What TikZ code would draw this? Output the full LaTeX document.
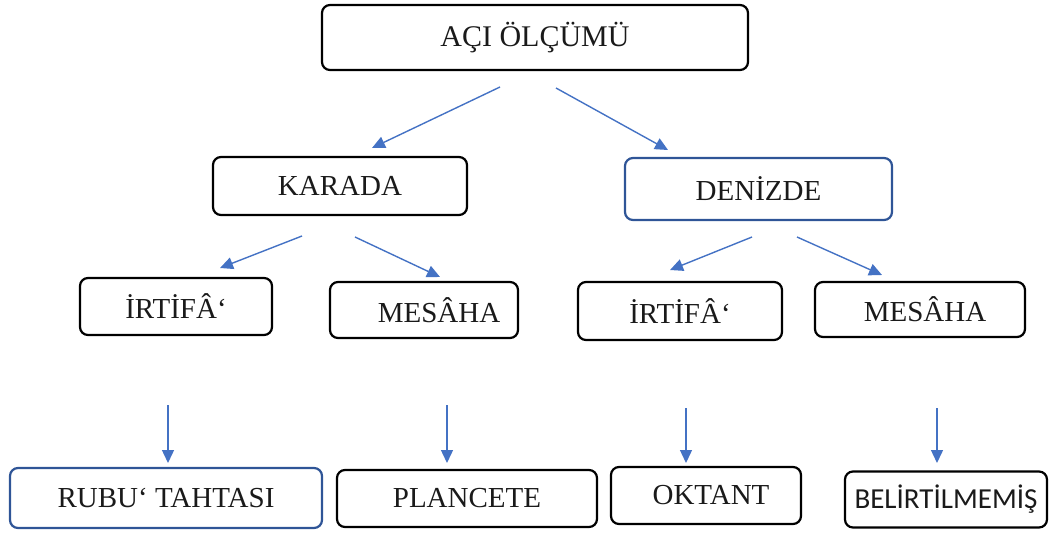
\documentclass[tikz,border=0pt]{standalone}
\usepackage{fontspec}
\setmainfont{Liberation Serif}
\newfontfamily\calfont{Carlito}
\usetikzlibrary{arrows.meta}
\definecolor{arr}{HTML}{4472C4}
\definecolor{bbl}{HTML}{2F5597}
\definecolor{txt}{HTML}{1A1A1A}
\tikzset{
 box/.style={draw=black, line width=2.2pt, rounded corners=8pt, inner sep=0pt, text=txt, font=\fontsize{29}{31}\selectfont},
 bluebox/.style={box, draw=bbl},
 conn/.style={draw=arr, line width=1.4pt, -{Triangle[length=13pt,width=12pt]}},
}
\begin{document}
\begin{tikzpicture}[x=1pt,y=-1pt]
\useasboundingbox (0,0) rectangle (1054,533);
\node[box, minimum width=426pt, minimum height=65pt, font=\fontsize{30}{32}\selectfont] (top) at (535,37.5) {AÇI ÖLÇÜMÜ};
\node[box, minimum width=254pt, minimum height=58pt] (kar) at (340,186) {KARADA};
\node[bluebox, minimum width=267pt, minimum height=62pt] (den) at (758.5,189) {DENİZDE};
\node[box, minimum width=192pt, minimum height=57pt] (ir1) at (176,306.5) {İRTİFÂ‘};
\node[box, minimum width=188pt, minimum height=56pt] (me1) at (424,310) {\hspace*{30pt}MESÂHA};
\node[box, minimum width=204pt, minimum height=58pt] (ir2) at (680,311) {İRTİFÂ‘};
\node[box, minimum width=210pt, minimum height=55pt] (me2) at (920,309.5) {\hspace*{10pt}MESÂHA};
\node[bluebox, minimum width=312pt, minimum height=60pt] (rub) at (166,498) {RUBU‘ TAHTASI};
\node[box, minimum width=260pt, minimum height=57pt] (pla) at (467,498.5) {PLANCETE};
\node[box, minimum width=190pt, minimum height=57pt] (okt) at (706,495.5) {\hspace*{10pt}\raisebox{-3pt}{OKTANT}};
\node[box, minimum width=202pt, minimum height=56pt, font=\calfont\fontsize{29}{31}\selectfont] (bel) at (946,499.5) {BELİRTİLMEMİŞ};
% arrow end coordinates
\coordinate (t1s) at (500,87);  \coordinate (t1e) at (372,148);
\coordinate (t2s) at (556,88);  \coordinate (t2e) at (668,150);
\coordinate (k1s) at (302,236); \coordinate (k1e) at (220,268);
\coordinate (k2s) at (355,237); \coordinate (k2e) at (440,277);
\coordinate (d1s) at (752,237); \coordinate (d1e) at (670,270);
\coordinate (d2s) at (797,237); \coordinate (d2e) at (882,275);
\coordinate (v1s) at (168,405); \coordinate (v1e) at (168,463);
\coordinate (v2s) at (447,405); \coordinate (v2e) at (447,463);
\coordinate (v3s) at (686,408); \coordinate (v3e) at (686,463);
\coordinate (v4s) at (937,408); \coordinate (v4e) at (937,463);
\foreach \s/\e in {t1s/t1e,t2s/t2e,k1s/k1e,k2s/k2e,d1s/d1e,d2s/d2e,v1s/v1e,v2s/v2e,v3s/v3e,v4s/v4e}
  \draw[conn] (\s) -- (\e);
\end{tikzpicture}
\end{document}
